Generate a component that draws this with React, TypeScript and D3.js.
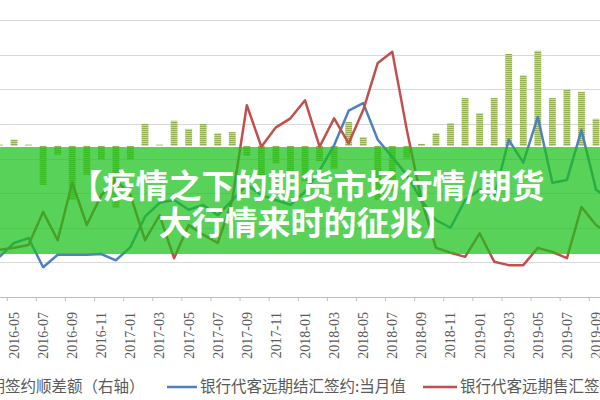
import React, { useEffect, useRef } from 'react';
import * as d3 from 'd3';

// months shown on the category axis (2016-04 .. 2019-10, the ends are clipped)
const months = [
  "2016-04", "2016-05", "2016-06", "2016-07", "2016-08", "2016-09", "2016-10", "2016-11", "2016-12",
  "2017-01", "2017-02", "2017-03", "2017-04", "2017-05", "2017-06", "2017-07", "2017-08", "2017-09",
  "2017-10", "2017-11", "2017-12", "2018-01", "2018-02", "2018-03", "2018-04", "2018-05", "2018-06",
  "2018-07", "2018-08", "2018-09", "2018-10", "2018-11", "2018-12", "2019-01", "2019-02", "2019-03",
  "2019-04", "2019-05", "2019-06", "2019-07", "2019-08", "2019-09", "2019-10"
];

// 远期签约顺差额 (right axis)
const surplusBars = [
  1, 5, 1, -31, -7, -43, -23, -11, -49, -11, 17.5, 1, 20, 13.5, 17.5, 10, 11, -8,
  -25, -14, -22, -28, -12, -18, 19, 7, -43, -36, -10, 1.6, 10, 18, 38, 26, 38, 73,
  56, 75.5, 38, 44.5, 43, 21.5, 30
];

// 银行代客远期结汇签约:当月值 (left axis)
const settleValues = [
  58, 78, 85, 43, 61, 61, 61, 62, 53, 72, 116, 136, 140, 126, 133, 118, 140, 162,
  147, 140, 133, 152, 183, 219, 269, 280, 227, 202, 176, 140, 111, 100, 140, 155, 144, 227,
  194, 260, 165, 169, 241, 155, 140
];

// 银行代客远期售汇签约:当月值 (left axis)
const saleValues = [
  68, 71, 75, 123, 82, 165, 104, 147, 169, 147, 82, 118, 56, 104, 90, 78, 140, 277,
  217, 245, 258, 284, 217, 258, 222, 270, 338, 354, 241, 140, 71, 64, 58, 92, 51, 46,
  46, 71, 65, 56, 130, 104, 90
];

const leftTicks = [0, 50, 100, 150, 200, 250, 300, 350, 400];
const rightDomain = [-120, 100];

const bannerLines = ["【疫情之下的期货市场行情/期货", "大行情来时的征兆】"];
const legendLabels = [
  "远期签约顺差额（右轴）",
  "银行代客远期结汇签约:当月值",
  "银行代客远期售汇签约:当月值"
];

const WIDTH = 600;
const HEIGHT = 400;

const App: React.FC = () => {
  const svgRef = useRef<SVGSVGElement>(null);

  useEffect(() => {
    const svg = d3.select(svgRef.current);
    svg.selectAll("*").remove();

    const plotTop = 20;
    const plotBottom = 297;

    const x = d3.scaleBand<string>()
      .domain(months)
      .range([-7.8, 617.85])
      .padding(0);
    const cx = (m: string) => (x(m) || 0) + x.bandwidth() / 2;

    const yLeft = d3.scaleLinear().domain([0, 400]).range([plotBottom, plotTop]);
    const yRight = d3.scaleLinear().domain(rightDomain).range([plotBottom, plotTop]);

    // stripe pattern for the bars
    const defs = svg.append("defs");
    const pat = defs.append("pattern")
      .attr("id", "barStripe")
      .attr("patternUnits", "userSpaceOnUse")
      .attr("width", 4)
      .attr("height", 2);
    pat.append("rect").attr("width", 4).attr("height", 2).attr("fill", "#c6d89e");
    pat.append("rect").attr("width", 4).attr("height", 1).attr("fill", "#94b04f");

    svg.append("rect").attr("width", WIDTH).attr("height", HEIGHT).attr("fill", "#fff");

    // grid lines
    svg.append("g")
      .selectAll("line")
      .data(leftTicks.slice(1))
      .enter()
      .append("line")
      .attr("x1", 0)
      .attr("x2", WIDTH)
      .attr("y1", d => Math.round(yLeft(d)) + 0.5)
      .attr("y2", d => Math.round(yLeft(d)) + 0.5)
      .attr("stroke", "#d9d9d9")
      .attr("stroke-width", 1.2);

    // bars
    const barW = x.bandwidth() * 0.47;
    svg.append("g")
      .selectAll("rect")
      .data(surplusBars)
      .enter()
      .append("rect")
      .attr("x", (_, i) => cx(months[i]) - barW / 2)
      .attr("y", d => yRight(Math.max(0, d)))
      .attr("width", barW)
      .attr("height", d => Math.abs(yRight(d) - yRight(0)))
      .attr("fill", "url(#barStripe)");

    // axis line + ticks between categories
    svg.append("line")
      .attr("x1", 0).attr("x2", WIDTH)
      .attr("y1", plotBottom + 0.5).attr("y2", plotBottom + 0.5)
      .attr("stroke", "#bfbfbf");

    const labelMonths = months.filter((_, i) => i % 2 === 1);
    svg.append("g")
      .selectAll("line")
      .data(labelMonths)
      .enter()
      .append("line")
      .attr("x1", d => (x(d) || 0) + 0.5)
      .attr("x2", d => (x(d) || 0) + 0.5)
      .attr("y1", plotBottom)
      .attr("y2", plotBottom + 4)
      .attr("stroke", "#bfbfbf");

    svg.append("g")
      .selectAll("text")
      .data(labelMonths)
      .enter()
      .append("text")
      .attr("transform", d => `translate(${cx(d)}, 312) rotate(-90)`)
      .attr("text-anchor", "end")
      .attr("dy", "0.35em")
      .style("font-family", "'Liberation Serif', serif")
      .style("font-size", "14px")
      .style("fill", "#595959")
      .text(d => d);

    // lines
    const line = d3.line<number>()
      .x((_, i) => cx(months[i]))
      .y(d => yLeft(d));

    svg.append("path")
      .datum(settleValues)
      .attr("fill", "none")
      .attr("stroke", "#4f81bd")
      .attr("stroke-width", 2.5)
      .attr("stroke-linejoin", "round")
      .attr("d", line);

    svg.append("path")
      .datum(saleValues)
      .attr("fill", "none")
      .attr("stroke", "#c0504d")
      .attr("stroke-width", 2.5)
      .attr("stroke-linejoin", "round")
      .attr("d", line);

    // legend
    const legendY = 387;
    const lg = svg.append("g")
      .style("font-family", "'Noto Sans CJK SC', sans-serif")
      .style("font-size", "15.5px")
      .style("fill", "#595959");
    lg.append("text").attr("x", -26).attr("y", legendY).attr("dy", "0.35em").text(legendLabels[0]);
    lg.append("line").attr("x1", 167).attr("x2", 197).attr("y1", legendY).attr("y2", legendY)
      .attr("stroke", "#4f81bd").attr("stroke-width", 2.5);
    lg.append("text").attr("x", 200).attr("y", legendY).attr("dy", "0.35em").text(legendLabels[1]);
    lg.append("line").attr("x1", 423).attr("x2", 457).attr("y1", legendY).attr("y2", legendY)
      .attr("stroke", "#c0504d").attr("stroke-width", 2.5);
    lg.append("text").attr("x", 460).attr("y", legendY).attr("dy", "0.35em").text(legendLabels[2]);

    // translucent green banner with title
    svg.append("rect")
      .attr("x", 0)
      .attr("y", 147)
      .attr("width", WIDTH)
      .attr("height", 107)
      .attr("fill", "rgb(24,192,24)")
      .attr("opacity", 0.72);

    svg.append("g")
      .selectAll("text")
      .data(bannerLines)
      .enter()
      .append("text")
      .attr("x", 307)
      .attr("y", (_, i) => 198 + i * 37)
      .attr("text-anchor", "middle")
      .style("font-family", "'Noto Sans CJK SC', sans-serif")
      .style("font-weight", "bold")
      .style("font-size", "33px")
      .style("fill", "#fff")
      .text(d => d);
  }, []);

  return (
    <svg
      ref={svgRef}
      width={WIDTH}
      height={HEIGHT}
      style={{ position: "absolute", left: 0, top: 0 }}
    ></svg>
  );
};

export default App;
